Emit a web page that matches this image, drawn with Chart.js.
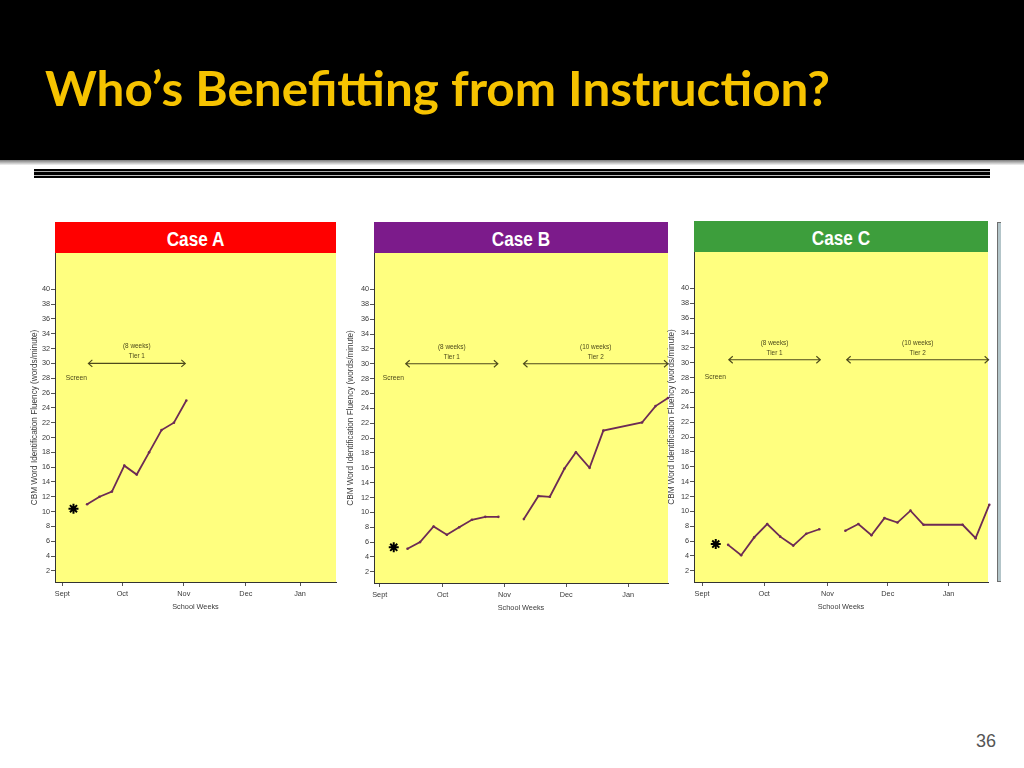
<!doctype html>
<html>
<head>
<meta charset="utf-8">
<title>Who's Benefitting from Instruction?</title>
<script src="https://cdn.jsdelivr.net/npm/chart.js"></script>
<style>
  body { margin: 0; background: #fff; }
  #slide { position: relative; width: 1024px; height: 768px; overflow: hidden; background: #fff; }
  #band { position: absolute; left: 0; top: 0; width: 1024px; height: 160px; background: #000; }
  #title { position: absolute; left: 45px; top: 64px; color: #f6c300; font: bold 48px Lato, "Open Sans", sans-serif;
           line-height: 1; white-space: nowrap; transform-origin: 0 0; }
  #shade { position: absolute; left: 0; top: 160px; width: 1024px; height: 5px; background: linear-gradient(#7a7a7a, #f4f4f4); }
  #rule { position: absolute; left: 34px; top: 169px; width: 956px; height: 9px;
          background: linear-gradient(#000 0 2px, #aaa 2px 3px, #000 3px 6px, #bbb 6px 7px, #000 7px 9px); }
  .head { position: absolute; height: 31px; color: #fff; text-align: center; overflow: hidden;
          font: bold 20px "Liberation Sans", Arial, sans-serif; }
  .head span { display: inline-block; position: relative; top: 6px; line-height: 20px; transform: scaleX(0.86); }
  canvas { position: absolute; }
  #next { position: absolute; left: 997px; top: 222px; width: 3px; height: 358px; border: 1px solid #6f6f6f; border-right: none;
          background: #b3c5c9; }
  #pageno { position: absolute; left: 976px; top: 731px; font: 18px "Liberation Sans", Arial, sans-serif; color: #555; }
</style>
</head>
<body>
<div id="slide">
  <div id="band"></div>
  <div id="title">Who’s Benefitting from Instruction?</div>
  <div id="shade"></div>
  <div id="rule"></div>

  <div class="head" style="left:55px; top:222px; width:281px; background:#ff0000;"><span>Case A</span></div>
  <div class="head" style="left:374px; top:222px; width:294px; background:#7c1b8b;"><span>Case B</span></div>
  <div class="head" style="left:694px; top:221px; width:294px; background:#3d9e3c;"><span>Case C</span></div>

  <canvas id="caseA"></canvas>
  <canvas id="caseB"></canvas>
  <canvas id="caseC"></canvas>

  <div id="next"></div>
  <div id="pageno">36</div>
</div>
<script>
    // shared axis values
    const monthLabels = ['Sept', 'Oct', 'Nov', 'Dec', 'Jan'];
    const scoreTicks = [2, 4, 6, 8, 10, 12, 14, 16, 18, 20, 22, 24, 26, 28, 30, 32, 34, 36, 38, 40];
    const scoreRange = [0.5, 44.9];
    const screenLevel = 28;

    // Case A
    const caseAWeekRange = [-0.59, 22.07];
    const caseAMonthWeeks = [0, 4.84, 9.8, 14.8, 19.17];
    const caseATier1Weeks = [2, 3, 4, 5, 6, 7, 8, 9, 10];
    const caseATier1Scores = [11.0, 12.0, 12.7, 16.2, 15.0, 18.0, 21.0, 22.0, 25.0];
    const caseAScreenWeek = [0.9];
    const caseAScreenScore = [10.4];
    const caseAPhaseStart = [2.1];
    const caseAPhaseEnd = [9.92];
    const caseAPhaseLevel = [30];
    const caseAPhaseLength = ['(8 weeks)'];
    const caseAPhaseName = ['Tier 1'];
    const caseAScreenLabelWeek = 0.27;

    // Case B
    const caseBWeekRange = [-0.44, 22.2];
    const caseBMonthWeeks = [0, 4.84, 9.6, 14.36, 19.13];
    const caseBTier1Weeks = [2.14, 3.11, 4.15, 5.17, 6.12, 7.1, 8.13, 9.14];
    const caseBTier1Scores = [5.1, 6.0, 8.1, 7.0, 8.0, 9.0, 9.4, 9.4];
    const caseBTier2Weeks = [11.1, 12.22, 13.1, 14.23, 15.11, 16.16, 17.22, 20.2, 21.24, 22.2];
    const caseBTier2Scores = [9.1, 12.2, 12.1, 15.9, 18.1, 16.0, 21.0, 22.1, 24.3, 25.4];
    const caseBScreenWeek = [1.08];
    const caseBScreenScore = [5.3];
    const caseBPhaseStart = [2.0, 11.07];
    const caseBPhaseEnd = [9.1, 22.2];
    const caseBPhaseLevel = [30, 30];
    const caseBPhaseLength = ['(8 weeks)', '(10 weeks)'];
    const caseBPhaseName = ['Tier 1', 'Tier 2'];
    const caseBScreenLabelWeek = 0.23;

    // Case C
    const caseCWeekRange = [-0.62, 21.95];
    const caseCMonthWeeks = [0, 4.77, 9.62, 14.26, 18.92];
    const caseCTier1Weeks = [2, 3, 4, 5, 6, 7, 8, 9];
    const caseCTier1Scores = [5.5, 4.1, 6.5, 8.3, 6.6, 5.4, 7.0, 7.6];
    const caseCTier2Weeks = [11, 12, 13, 14, 15, 16, 17, 20, 21, 22.05];
    const caseCTier2Scores = [7.4, 8.3, 6.8, 9.1, 8.5, 10.1, 8.2, 8.2, 6.4, 10.9];
    const caseCScreenWeek = [1.05];
    const caseCScreenScore = [5.6];
    const caseCPhaseStart = [2.05, 11.1];
    const caseCPhaseEnd = [9.08, 22.0];
    const caseCPhaseLevel = [30.4, 30.4];
    const caseCPhaseLength = ['(8 weeks)', '(10 weeks)'];
    const caseCPhaseName = ['Tier 1', 'Tier 2'];
    const caseCScreenLabelWeek = 0.2;

    const LINE = '#6d2b55';
    const NOTE = '#4d4a1c';
    const FONT = '"Liberation Sans", Arial, sans-serif';

    // yellow plot area, phase arrows and their labels
    const panelDecor = {
        id: 'panelDecor',
        beforeDraw(chart) {
            const a = chart.chartArea;
            chart.ctx.save();
            chart.ctx.fillStyle = '#ffff7f';
            chart.ctx.fillRect(a.left, a.top, a.right - a.left, a.bottom - a.top);
            chart.ctx.restore();
        },
        afterDatasetsDraw(chart, args, opts) {
            const ctx = chart.ctx;
            const xs = chart.scales.x, ys = chart.scales.y;
            ctx.save();
            ctx.strokeStyle = NOTE;
            ctx.fillStyle = NOTE;
            ctx.lineWidth = 1.1;
            ctx.textAlign = 'center';
            ctx.textBaseline = 'middle';
            ctx.font = '6.4px ' + FONT;
            opts.start.forEach((s, i) => {
                const x1 = xs.getPixelForValue(s);
                const x2 = xs.getPixelForValue(opts.end[i]);
                const y = ys.getPixelForValue(opts.level[i]);
                ctx.beginPath();
                ctx.moveTo(x1, y); ctx.lineTo(x2, y);
                ctx.moveTo(x1 + 4, y - 3.5); ctx.lineTo(x1, y); ctx.lineTo(x1 + 4, y + 3.5);
                ctx.moveTo(x2 - 4, y - 3.5); ctx.lineTo(x2, y); ctx.lineTo(x2 - 4, y + 3.5);
                ctx.stroke();
                const xm = (x1 + x2) / 2;
                ctx.fillText(opts.length[i], xm, y - 17);
                ctx.fillText(opts.name[i], xm, y - 7);
            });
            ctx.textAlign = 'left';
            ctx.font = '6.7px ' + FONT;
            ctx.fillText('Screen', xs.getPixelForValue(opts.screenWeek), ys.getPixelForValue(screenLevel));
            ctx.restore();
        }
    };

    function makePanel(id, box, cfg) {
        const cv = document.getElementById(id);
        cv.width = box.w;
        cv.height = box.h;
        cv.style.left = box.x + 'px';
        cv.style.top = box.y + 'px';

        const datasets = cfg.series.map(s => ({
            data: s.weeks.map((w, i) => ({x: w, y: s.scores[i]})),
            borderColor: LINE,
            backgroundColor: LINE,
            borderWidth: 1.8,
            pointRadius: 1.3,
            pointBorderWidth: 0,
            tension: 0,
            clip: 4
        }));
        datasets.push({
            type: 'scatter',
            data: cfg.screenWeek.map((w, i) => ({x: w, y: cfg.screenScore[i]})),
            pointStyle: 'star',
            pointRadius: 5,
            borderColor: '#000',
            backgroundColor: '#000',
            borderWidth: 2
        });

        const tickFont = {size: 7.3, family: FONT};
        new Chart(cv, {
            type: 'line',
            data: {datasets: datasets},
            options: {
                responsive: false,
                animation: false,
                events: [],
                layout: {autoPadding: false, padding: {left: 0, right: 4, top: 0, bottom: 0}},
                plugins: {
                    legend: {display: false},
                    tooltip: {enabled: false},
                    panelDecor: cfg.phases
                },
                scales: {
                    x: {
                        type: 'linear',
                        min: cfg.weekRange[0],
                        max: cfg.weekRange[1],
                        afterBuildTicks: s => { s.ticks = cfg.monthWeeks.map(v => ({value: v})); },
                        afterFit: s => { s.height = 34; s.paddingLeft = 0; s.paddingRight = 0; },
                        ticks: {callback: (v, i) => monthLabels[i], font: tickFont, color: '#3a3a3a',
                                padding: 4, maxRotation: 0, autoSkip: false},
                        grid: {drawOnChartArea: false, tickLength: 4, color: '#555'},
                        border: {color: '#333'},
                        title: {display: true, text: 'School Weeks', font: tickFont, color: '#3a3a3a',
                                padding: {top: 0, bottom: 4.5}}
                    },
                    y: {
                        min: scoreRange[0],
                        max: scoreRange[1],
                        afterBuildTicks: s => { s.ticks = scoreTicks.map(v => ({value: v})); },
                        afterFit: s => { s.width = box.axisW; s.paddingTop = 0; s.paddingBottom = 0; },
                        ticks: {font: tickFont, color: '#3a3a3a', padding: 1, autoSkip: false},
                        grid: {drawOnChartArea: false, tickLength: 4, color: '#555'},
                        border: {color: '#333'},
                        title: {display: true, text: 'CBM Word Identification Fluency (words/minute)',
                                font: {size: 8.2, family: FONT}, color: '#3a3a3a', padding: {top: 0.5, bottom: 0}}
                    }
                }
            },
            plugins: [panelDecor]
        });
    }

    makePanel('caseA', {x: 29, y: 253, w: 311, h: 363, axisW: 26}, {
        weekRange: caseAWeekRange, monthWeeks: caseAMonthWeeks,
        series: [{weeks: caseATier1Weeks, scores: caseATier1Scores}],
        screenWeek: caseAScreenWeek, screenScore: caseAScreenScore,
        phases: {start: caseAPhaseStart, end: caseAPhaseEnd, level: caseAPhaseLevel,
                 length: caseAPhaseLength, name: caseAPhaseName, screenWeek: caseAScreenLabelWeek}
    });

    makePanel('caseB', {x: 345, y: 253, w: 327, h: 364, axisW: 29}, {
        weekRange: caseBWeekRange, monthWeeks: caseBMonthWeeks,
        series: [{weeks: caseBTier1Weeks, scores: caseBTier1Scores},
                 {weeks: caseBTier2Weeks, scores: caseBTier2Scores}],
        screenWeek: caseBScreenWeek, screenScore: caseBScreenScore,
        phases: {start: caseBPhaseStart, end: caseBPhaseEnd, level: caseBPhaseLevel,
                 length: caseBPhaseLength, name: caseBPhaseName, screenWeek: caseBScreenLabelWeek}
    });

    makePanel('caseC', {x: 666, y: 252, w: 326, h: 364, axisW: 28}, {
        weekRange: caseCWeekRange, monthWeeks: caseCMonthWeeks,
        series: [{weeks: caseCTier1Weeks, scores: caseCTier1Scores},
                 {weeks: caseCTier2Weeks, scores: caseCTier2Scores}],
        screenWeek: caseCScreenWeek, screenScore: caseCScreenScore,
        phases: {start: caseCPhaseStart, end: caseCPhaseEnd, level: caseCPhaseLevel,
                 length: caseCPhaseLength, name: caseCPhaseName, screenWeek: caseCScreenLabelWeek}
    });

    // stretch the title to the width it has on the slide
    const title = document.getElementById('title');
    title.style.transform = 'scaleX(' + (785 / title.getBoundingClientRect().width) + ')';
</script>
</body>
</html>
